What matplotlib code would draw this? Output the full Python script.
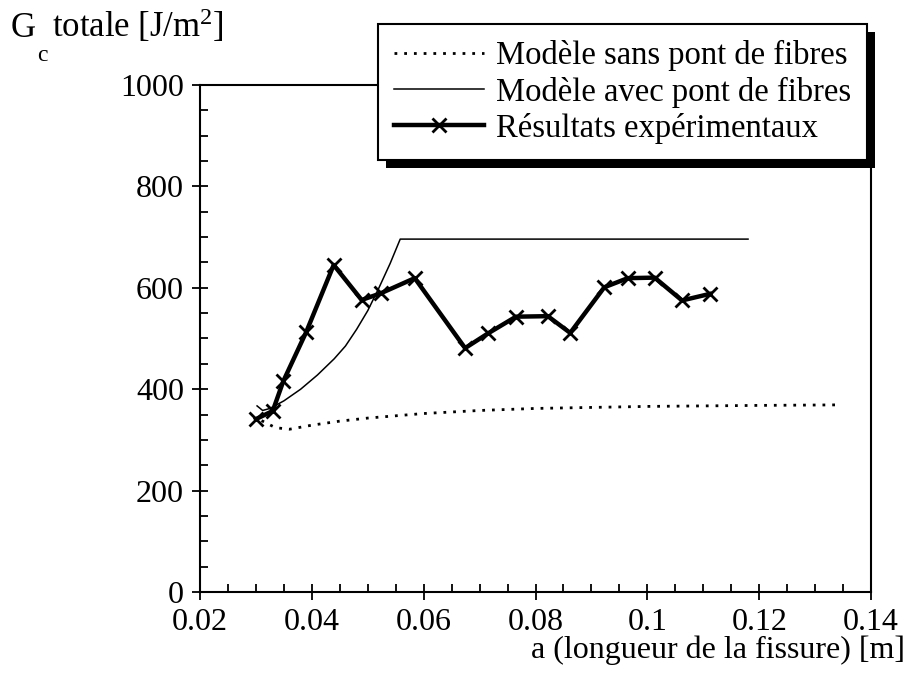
import matplotlib
matplotlib.use("Agg")
import matplotlib.pyplot as plt
from matplotlib.patches import Rectangle
from matplotlib.ticker import MultipleLocator

plt.rcParams['font.family'] = ['Liberation Serif', 'DejaVu Serif']
plt.rcParams['mathtext.fontset'] = 'custom'
plt.rcParams['mathtext.rm'] = 'Liberation Serif'
plt.rcParams['mathtext.it'] = 'Liberation Serif:italic'

# Modèle sans pont de fibres (dotted)
a_sans = [0.031, 0.0335, 0.036, 0.040, 0.045, 0.050, 0.060, 0.070, 0.080, 0.090, 0.100, 0.110, 0.120, 0.1337]
g_sans = [338, 324, 321, 329, 337, 343, 352, 358, 362, 364, 366, 367, 368, 369]

# Modèle avec pont de fibres (thin solid)
a_avec = [0.0302, 0.0312, 0.0325, 0.035, 0.038, 0.041, 0.044, 0.046, 0.048, 0.050, 0.052, 0.054, 0.0558, 0.118]
g_avec = [367, 358, 362, 377, 400, 428, 460, 485, 518, 555, 600, 648, 696, 696]

# Résultats expérimentaux
a_exp = [0.0300, 0.0330, 0.0349, 0.0390, 0.0439, 0.0489, 0.0523, 0.0584, 0.0674, 0.0715,
         0.0765, 0.0822, 0.0862, 0.0923, 0.0965, 0.1013, 0.1062, 0.1112]
g_exp = [341, 357, 416, 513, 645, 576, 589, 619, 481, 510, 543, 544, 511, 601, 619, 620, 575, 588]

xticks = [0.02, 0.04, 0.06, 0.08, 0.1, 0.12, 0.14]
xticklabels = ['0.02', '0.04', '0.06', '0.08', '0.1', '0.12', '0.14']
yticks = [0, 200, 400, 600, 800, 1000]

fig = plt.figure(figsize=(9.08, 6.82), dpi=100)
ax = fig.add_axes([0.2203, 0.132, 0.739, 0.7434])

l1, = ax.plot(a_sans, g_sans, color='black', lw=2, linestyle=(0, (1, 2.5)),
              label='Modèle sans pont de fibres')
l2, = ax.plot(a_avec, g_avec, color='black', lw=1.1, label='Modèle avec pont de fibres')
l3, = ax.plot(a_exp, g_exp, color='black', lw=3.2, marker='x', markersize=10, mew=2,
              label='Résultats expérimentaux')

ax.set_xlim(0.02, 0.14)
ax.set_ylim(0, 1000)
ax.set_xticks(xticks)
ax.set_xticklabels(xticklabels)
ax.set_yticks(yticks)
ax.xaxis.set_minor_locator(MultipleLocator(0.005))
ax.yaxis.set_minor_locator(MultipleLocator(50))
ax.tick_params(which='major', direction='inout', length=11, width=1.3, labelsize=23)
ax.tick_params(axis='x', which='major', pad=6)
ax.tick_params(axis='y', which='major', pad=6)
ax.tick_params(which='minor', direction='in', length=6, width=1.3)
for s in ax.spines.values():
    s.set_linewidth(1.5)

# y-axis title at top left: G with lowered subscript c
fig.text(11 / 908, 1 - 37 / 682, 'G', fontsize=25, ha='left', va='baseline')
fig.text(37 / 908, 1 - 61 / 682, 'c', fontsize=17, ha='left', va='baseline')
fig.text(52 / 908, 1 - 37 / 682, r'totale [J/m$^{\mathrm{2}}$]', fontsize=25,
         ha='left', va='baseline')
fig.text(0.997, 0.047, 'a (longueur de la fissure) [m]', fontsize=23, ha='right', va='center')

leg = ax.legend(handles=[l1, l2, l3], loc='upper left', bbox_to_anchor=(0.416, 0.965),
                bbox_transform=fig.transFigure, borderaxespad=0, fontsize=23.5,
                frameon=True, fancybox=False, handlelength=2.75, handletextpad=0.37,
                labelspacing=0.16, borderpad=0.5, framealpha=1)
leg.get_frame().set_edgecolor('black')
leg.get_frame().set_linewidth(1.5)
leg.set_zorder(10)

fig.canvas.draw()
bb = leg.get_window_extent()
shadow = Rectangle((bb.x0 + 8, bb.y0 - 8), bb.width, bb.height, transform=None,
                   facecolor='black', edgecolor='none', zorder=9, clip_on=False)
ax.add_artist(shadow)

fig.savefig('out.png', dpi=100)
